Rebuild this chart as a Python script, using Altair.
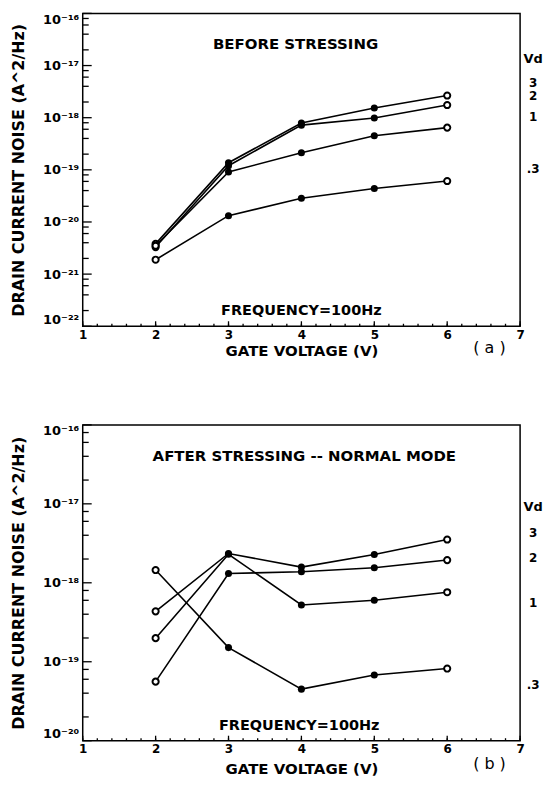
import math
import altair as alt
import pandas as pd

# ---------------- data ----------------
gate_v = [2, 3, 4, 5, 6]
vd_names = ["3", "2", "1", ".3"]

# (a) before stressing
a_vd3 = [3.8e-21, 1.37e-19, 7.9e-19, 1.53e-18, 2.66e-18]
a_vd2 = [3.3e-21, 1.20e-19, 7.2e-19, 9.9e-19, 1.75e-18]
a_vd1 = [3.5e-21, 9.1e-20, 2.13e-19, 4.5e-19, 6.45e-19]
a_vd03 = [1.89e-21, 1.32e-20, 2.86e-20, 4.4e-20, 6.1e-20]

# (b) after stressing -- normal mode
b_vd3 = [4.35e-19, 2.35e-18, 1.58e-18, 2.28e-18, 3.53e-18]
b_vd2 = [5.6e-20, 1.31e-18, 1.38e-18, 1.55e-18, 1.94e-18]
b_vd1 = [1.99e-19, 2.30e-18, 5.23e-19, 6.0e-19, 7.6e-19]
b_vd03 = [1.45e-18, 1.51e-19, 4.5e-20, 6.8e-20, 8.2e-20]

x_tick_labels = [1, 2, 3, 4, 5, 6, 7]
a_decades = [1e-22, 1e-21, 1e-20, 1e-19, 1e-18, 1e-17, 1e-16]
b_decades = [1e-20, 1e-19, 1e-18, 1e-17, 1e-16]
minor_mult = [2, 4, 6, 8]
x_minor = [round(1 + 0.2 * i, 1) for i in range(31)]

FONT = "DejaVu Sans"
SUP = str.maketrans("-0123456789", "⁻⁰¹²³⁴⁵⁶⁷⁸⁹")


def long_df(series):
    rows = []
    for name, vals in zip(vd_names, series):
        for xv, yv in zip(gate_v, vals):
            rows.append({"vd": name, "x": xv, "y": yv, "end": xv in (2, 6)})
    return pd.DataFrame(rows)


def label_expr(decades):
    parts = []
    for d in decades[:-1]:
        e = round(math.log10(d))
        parts.append(f"datum.value < {d * 3:g} ? '10{str(e).translate(SUP)}'")
    e = round(math.log10(decades[-1]))
    return " : ".join(parts) + f" : '10{str(e).translate(SUP)}'"


def panel(series, decades, width, height, title_txt, title_pos, freq_pos,
          vd_pos, tag, tag_pos, x_title_pad):
    df = long_df(series)
    x_scale = alt.Scale(domain=[1, 7], nice=False, zero=False)
    y_scale = alt.Scale(type="log", domain=[decades[0], decades[-1]], nice=False)
    x_axis = alt.Axis(values=x_tick_labels, format="d", ticks=False, domain=False,
                      grid=False, labelPadding=3, labelFlush=False,
                      title="GATE VOLTAGE  (V)", titlePadding=x_title_pad)
    y_axis = alt.Axis(values=decades, ticks=False, domain=False, grid=False,
                      labelExpr=label_expr(decades), labelPadding=4,
                      labelFontSize=13, labelFlush=True,
                      title="DRAIN CURRENT NOISE (A^2/Hz)", titleFontSize=16,
                      titlePadding=16)

    def X(f="x"):
        return alt.X(f"{f}:Q", scale=x_scale, axis=x_axis)

    def Y(f="y"):
        return alt.Y(f"{f}:Q", scale=y_scale, axis=y_axis)

    lines = alt.Chart(df).mark_line(color="black", strokeWidth=1.6).encode(
        x=X(), y=Y(), detail="vd:N", order="x:Q")
    open_pts = alt.Chart(df).transform_filter("datum.end").mark_point(
        shape="circle", filled=False, fill="white", fillOpacity=1,
        stroke="black", strokeWidth=2, size=38, opacity=1).encode(x=X(), y=Y())
    filled_pts = alt.Chart(df).transform_filter("!datum.end").mark_circle(
        color="black", size=50, opacity=1).encode(x=X(), y=Y())

    minor_y = [m * d for d in decades[:-1] for m in minor_mult]
    ymin = alt.Chart(pd.DataFrame({"y": minor_y})).mark_rule(
        color="black", strokeWidth=1.3).encode(y=Y(), x=alt.value(0), x2=alt.value(6))
    ymaj = alt.Chart(pd.DataFrame({"y": decades})).mark_rule(
        color="black", strokeWidth=1.3).encode(y=Y(), x=alt.value(0), x2=alt.value(9))
    xmin = alt.Chart(pd.DataFrame({"x": x_minor})).mark_rule(
        color="black", strokeWidth=1.3).encode(x=X(), y=alt.value(height),
                                               y2=alt.value(height - 2.5))
    xmaj = alt.Chart(pd.DataFrame({"x": x_tick_labels})).mark_rule(
        color="black", strokeWidth=1.3).encode(x=X(), y=alt.value(height),
                                               y2=alt.value(height - 5))

    def txt(s, pos, size=15, weight="bold", align="center"):
        return alt.Chart(pd.DataFrame({"t": [s]})).mark_text(
            font=FONT, fontSize=size, fontWeight=weight, color="black",
            align=align, baseline="middle").encode(
            x=alt.datum(pos[0]), y=alt.datum(10 ** pos[1]), text="t:N")

    texts = [txt(title_txt, title_pos), txt("FREQUENCY=100Hz", freq_pos, size=14.5),
             txt("Vd", vd_pos[0], size=13)]
    for name, p in zip(vd_names, vd_pos[1:]):
        texts.append(txt(name, p, size=12))
    texts.append(txt(tag, tag_pos, size=16, weight="normal"))

    return alt.layer(lines, open_pts, filled_pts, ymin, ymaj, xmin, xmaj,
                     *texts).properties(width=width, height=height)


pa = panel([a_vd3, a_vd2, a_vd1, a_vd03], a_decades, 439, 314,
           "BEFORE STRESSING", (3.92, -16.59), (4.0, -21.71),
           [(7.18, -16.88), (7.18, -17.33), (7.18, -17.59), (7.18, -17.99),
            (7.18, -18.98)],
           "( a )", (6.58, -22.42), 3)

pb = panel([b_vd3, b_vd2, b_vd1, b_vd03], b_decades, 439, 317,
           "AFTER STRESSING -- NORMAL MODE", (4.04, -16.40), (3.97, -19.81),
           [(7.18, -17.04), (7.18, -17.37), (7.18, -17.69), (7.18, -18.26),
            (7.18, -19.30)],
           "( b )", (6.58, -20.29), 7)

chart = alt.vconcat(pa, pb, spacing=64).properties(
    padding={"left": 1, "top": 2, "right": 0, "bottom": 0}
).configure_axis(
    labelFont=FONT, labelFontWeight="bold", labelFontSize=12, labelColor="black",
    titleFont=FONT, titleFontWeight="bold", titleFontSize=15, titleColor="black"
).configure_view(stroke="black", strokeWidth=1.5)

chart.save("out.html", embed_options={"renderer": "svg", "actions": False})
